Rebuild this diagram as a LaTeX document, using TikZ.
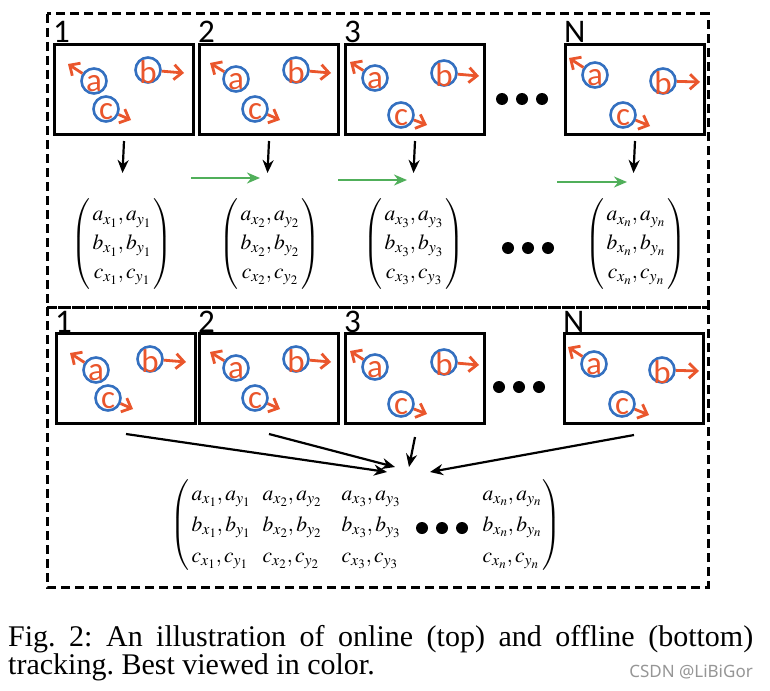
\documentclass[tikz,border=0pt]{standalone}
\usepackage{amsmath}
\usepackage{mathptmx}
\usepackage[no-math]{fontspec}
\setmainfont{Liberation Serif}
\newfontfamily\calib{Carlito}
\newfontfamily\wmfont{Noto Sans}
\usetikzlibrary{arrows.meta,calc}
\definecolor{objred}{RGB}{234,86,44}
\definecolor{objblue}{RGB}{52,112,192}
\definecolor{grn}{RGB}{80,175,90}
\definecolor{wmgray}{RGB}{150,150,150}
\renewcommand{\arraystretch}{1.2}
\newcommand{\colbox}[2]{\makebox[#1][l]{$#2$}}

\tikzset{
 frm/.style={draw=black, line width=3pt, minimum width=139pt, minimum height=90pt, anchor=north west, inner sep=0pt},
 objc/.style={circle, draw=objblue, line width=2.6pt, minimum size=25pt, inner sep=0pt},
 objl/.style={text=objred, font=\calib\fontsize{33}{33}\selectfont, inner sep=0pt},
 redarr/.style={draw=objred, line width=2.8pt, -{Straight Barb[length=8pt,width=15pt,line width=2.8pt]}},
 blk/.style={draw=black, line width=2.2pt, -{Stealth[length=13pt,width=11pt]}},
 grnarr/.style={draw=grn, line width=2.4pt, -{Stealth[length=13pt,width=11pt]}},
 lbl/.style={font=\calib\fontsize{33}{33}\selectfont, anchor=base west, inner sep=0pt},
 outerbox/.style={draw=black, line width=3pt, dash pattern=on 9pt off 5pt},
 dotc/.style={circle, fill=black, minimum size=12pt, inner sep=0pt},
 mat/.style={inner sep=0pt, font=\fontsize{21.5}{24}\selectfont},
}

\newcommand{\trkobj}[4]{%
 \node[objc] (#1) at #2 {};
 \coordinate (#1e) at #3;
 \draw[redarr] (#1) -- (#1e);
 \node[objl] (#1l) at ($(#1)+(0,2.5)$) {#4};
}
\newcommand{\cfgA}[1]{\trkobj{#1a}{(41,38)}{(15,21)}{a}\trkobj{#1b}{(95,27)}{(131,30)}{b}\trkobj{#1c}{(53,66)}{(78,77)}{c}}
\newcommand{\cfgB}[1]{\trkobj{#1a}{(38,36)}{(12,20)}{a}\trkobj{#1b}{(98,27)}{(133,30)}{b}\trkobj{#1c}{(57,66)}{(82,77)}{c}}
\newcommand{\cfgC}[1]{\trkobj{#1a}{(31,35)}{(6,19)}{a}\trkobj{#1b}{(100,30)}{(135,33)}{b}\trkobj{#1c}{(57,72)}{(83,82)}{c}}
\newcommand{\cfgN}[1]{\trkobj{#1a}{(31,32)}{(5,15)}{a}\trkobj{#1b}{(99,38)}{(136,39)}{b}\trkobj{#1c}{(59,72)}{(86,83)}{c}}

\newcommand{\trkframe}[4]{%
 \node[frm] (#1) at #2 {};
 \node[lbl] (#1n) at ($(#1.north west)+(0,0)$) {#3};
 \begin{scope}[shift={(#1.north west)}]
  #4{#1}
 \end{scope}
}

\begin{document}
\begin{tikzpicture}[x=1pt,y=-1pt]
\useasboundingbox[fill=white] (0,0) rectangle (770,690);

% outer dashed boxes
\draw[outerbox] (47,14) rectangle (708,307);
\draw[outerbox] (47,307) rectangle (708,587);

% ---------- top (online) ----------
\trkframe{f1}{(53,43)}{1}{\cfgA}
\trkframe{f2}{(198,43)}{2}{\cfgB}
\trkframe{f3}{(344,43)}{3}{\cfgC}
\trkframe{fN}{(564,43)}{N}{\cfgN}

\node[dotc] (td1) at (502,99) {};
\node[dotc] (td2) at (522,99) {};
\node[dotc] (td3) at (542,99) {};

\coordinate (t1) at (122.5,173);
\coordinate (t2) at (267.5,173);
\coordinate (t3) at (413.5,173);
\coordinate (tN) at (633.5,173);
\draw[blk] ([yshift=-5pt]f1.south) -- (t1);
\draw[blk] ([yshift=-5pt]f2.south) -- (t2);
\draw[blk] ([yshift=-5pt]f3.south) -- (t3);
\draw[blk] ([yshift=-5pt]fN.south) -- (tN);

\coordinate (gs1) at (191,178);
\coordinate (ge1) at (260,178);
\coordinate (gs2) at (338,180);
\coordinate (ge2) at (407,180);
\coordinate (gs3) at (557,182);
\coordinate (ge3) at (627,182);
\draw[grnarr] (gs1) -- (ge1);
\draw[grnarr] (gs2) -- (ge2);
\draw[grnarr] (gs3) -- (ge3);

\node[mat] (m1) at (122,244) {$\begin{pmatrix} \,a_{x_1},a_{y_1}\,\\ \,b_{x_1},b_{y_1}\,\\ \,c_{x_1},c_{y_1}\,\end{pmatrix}$};
\node[mat] (m2) at (270,244) {$\begin{pmatrix} \,a_{x_2},a_{y_2}\,\\ \,b_{x_2},b_{y_2}\,\\ \,c_{x_2},c_{y_2}\,\end{pmatrix}$};
\node[mat] (m3) at (414,244) {$\begin{pmatrix} \,a_{x_3},a_{y_3}\,\\ \,b_{x_3},b_{y_3}\,\\ \,c_{x_3},c_{y_3}\,\end{pmatrix}$};
\node[mat] (mN) at (636,244) {$\begin{pmatrix} \,a_{x_n},a_{y_n}\,\\ \,b_{x_n},b_{y_n}\,\\ \,c_{x_n},c_{y_n}\,\end{pmatrix}$};

\node[dotc] (md1) at (508,248) {};
\node[dotc] (md2) at (528,248) {};
\node[dotc] (md3) at (548,248) {};

% ---------- bottom (offline) ----------
\trkframe{g1}{(55,332)}{1}{\cfgA}
\trkframe{g2}{(198,332)}{2}{\cfgB}
\trkframe{g3}{(344,332)}{3}{\cfgC}
\trkframe{gN}{(563,332)}{N}{\cfgN}

\node[dotc] (bd1) at (499,387) {};
\node[dotc] (bd2) at (519,387) {};
\node[dotc] (bd3) at (539,387) {};

\coordinate (h1) at (387,472);
\coordinate (h2) at (395,467);
\coordinate (h3) at (409,467);
\coordinate (hN) at (430,472);
\draw[blk] ([yshift=-9pt]g1.south) -- (h1);
\draw[blk] ([yshift=-9pt]g2.south) -- (h2);
\draw[blk] ([yshift=-12pt]g3.south) -- (h3);
\draw[blk] ([yshift=-10pt]gN.south) -- (hN);

\node[mat] (mb) at (366,525) {$\setlength{\arraycolsep}{0pt}\renewcommand{\arraystretch}{1.3}\begin{pmatrix}
 \,\colbox{71pt}{a_{x_1},a_{y_1}} & \colbox{79pt}{a_{x_2},a_{y_2}} & \colbox{141pt}{a_{x_3},a_{y_3}} & \colbox{60pt}{a_{x_n},a_{y_n}}\\
 \,\colbox{71pt}{b_{x_1},b_{y_1}} & \colbox{79pt}{b_{x_2},b_{y_2}} & \colbox{141pt}{b_{x_3},b_{y_3}} & \colbox{60pt}{b_{x_n},b_{y_n}}\\
 \,\colbox{71pt}{c_{x_1},c_{y_1}} & \colbox{79pt}{c_{x_2},c_{y_2}} & \colbox{141pt}{c_{x_3},c_{y_3}} & \colbox{60pt}{c_{x_n},c_{y_n}}
 \end{pmatrix}$};

\node[dotc] (bm1) at (422,528) {};
\node[dotc] (bm2) at (442,528) {};
\node[dotc] (bm3) at (462,528) {};

% ---------- caption ----------
\node[anchor=base west, inner sep=0pt, font=\fontsize{30}{30}\selectfont] (cap1) at (8,646)
 {\frenchspacing\makebox[745pt][s]{Fig. 2: An illustration of online (top) and offline (bottom)}};
\node[anchor=base west, inner sep=0pt, font=\fontsize{30}{30}\selectfont] (cap2) at (8,674)
 {\frenchspacing tracking. Best viewed in color.};
\node[anchor=base east, inner sep=0pt, text=wmgray, font=\wmfont\fontsize{17}{17}\selectfont] (wm) at (753,677)
 {CSDN @LiBiGor};
\end{tikzpicture}
\end{document}
